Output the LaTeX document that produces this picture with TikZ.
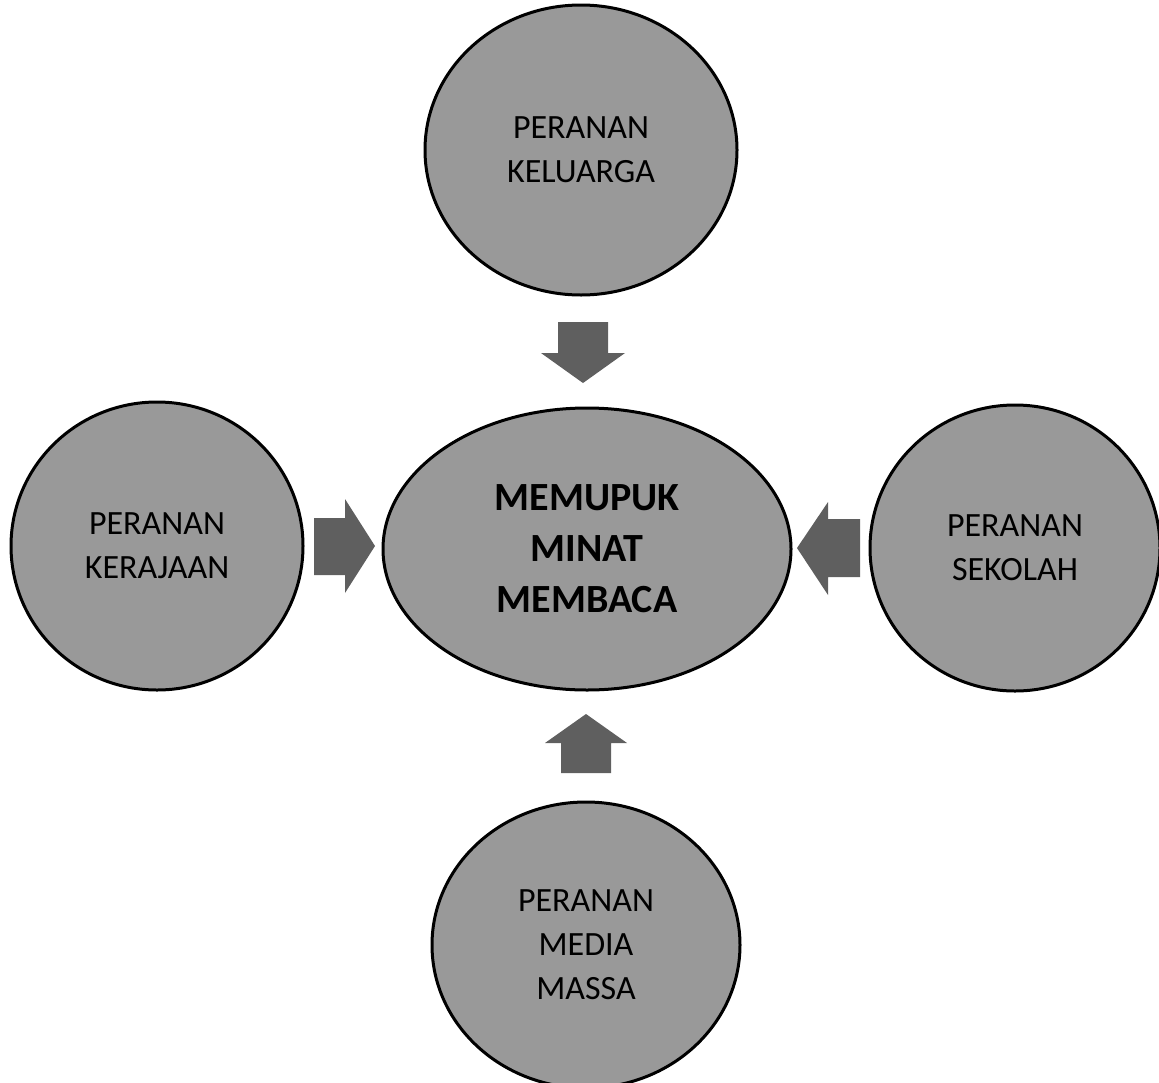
\documentclass[tikz,border=0pt]{standalone}
\usepackage{fontspec}
\setmainfont{Carlito}
\usetikzlibrary{shapes.geometric}
\definecolor{discfill}{HTML}{999999}
\definecolor{arrowfill}{HTML}{5F5F5F}
\tikzset{
  disc/.style={ellipse, draw=black, line width=3pt, fill=discfill, inner sep=0pt,
    align=center, text=black, font=\fontsize{34}{44}\selectfont},
  hub/.style={disc, font=\fontsize{40}{51}\selectfont\bfseries},
  blockarrow/.style={fill=arrowfill, draw=none}
}
\begin{document}
\begin{tikzpicture}[x=1pt,y=1pt]
\useasboundingbox (0,0) rectangle (1159,-1082);
\node[hub, minimum width=408, minimum height=282] (c) at (587,-549) {MEMUPUK\\MINAT\\MEMBACA};
\node[disc, minimum width=312, minimum height=290] (t) at (581,-150) {PERANAN\\KELUARGA};
\node[disc, minimum width=292, minimum height=288] (l) at (157,-546) {PERANAN\\KERAJAAN};
\node[disc, minimum width=290, minimum height=286] (r) at (1015,-548) {PERANAN\\SEKOLAH};
\node[disc, minimum width=308, minimum height=286] (b) at (586,-945) {PERANAN\\MEDIA\\MASSA};
% top arrow (down)
\fill[blockarrow] (558,-322) -- (608,-322) -- (608,-353) -- (625,-353) -- (583,-383)
  -- (541,-353) -- (558,-353) -- cycle;
% bottom arrow (up)
\fill[blockarrow] (561,-773) -- (611,-773) -- (611,-743) -- (627,-743) -- (586,-714)
  -- (545,-743) -- (561,-743) -- cycle;
% left arrow (right)
\fill[blockarrow] (314,-518) -- (345,-518) -- (345,-499) -- (375,-546) -- (345,-593)
  -- (345,-575) -- (314,-575) -- cycle;
% right arrow (left)
\fill[blockarrow] (860,-519) -- (828,-519) -- (828,-502) -- (797,-548) -- (828,-595)
  -- (828,-577) -- (860,-577) -- cycle;
\end{tikzpicture}
\end{document}
